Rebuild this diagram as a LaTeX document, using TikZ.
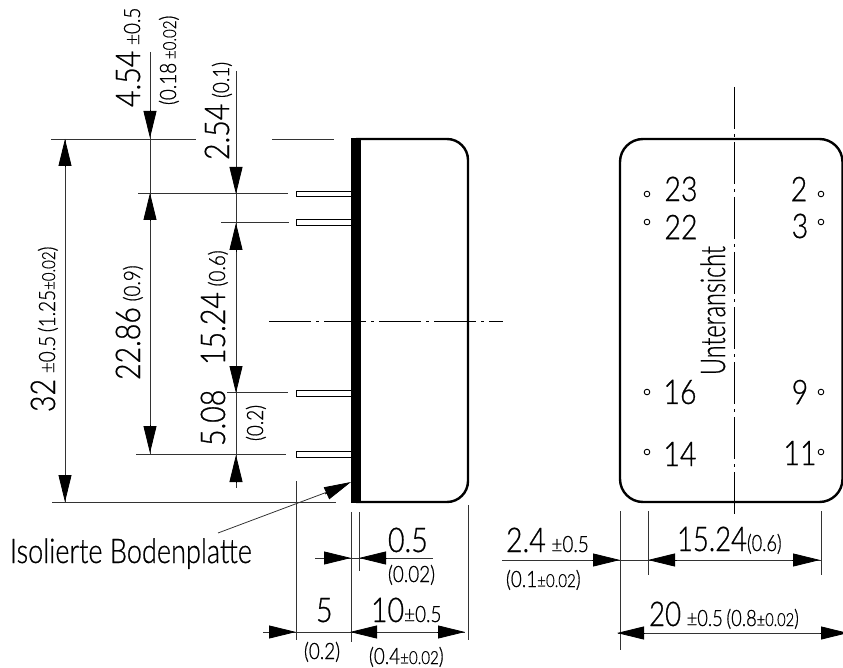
\documentclass[tikz,border=0pt]{standalone}
\usepackage{fontspec}
\setmainfont[FakeStretch=0.84,FakeBold=0.7]{Lato Light}
\usetikzlibrary{arrows.meta}
\newcommand{\szA}{\fontsize{34}{34}\selectfont}
\newcommand{\szB}{\fontsize{22.5}{22.5}\selectfont}
\newcommand{\szC}{\fontsize{22.5}{22.5}\selectfont}
\newcommand{\szD}{\fontsize{18}{18}\selectfont}
\tikzset{
  dimline/.style={line width=0.8pt,draw=black!80},
  dimarrow/.style={draw=black,line width=0.8pt,-{Triangle[length=27pt,width=13pt,fill=black]}},
  outline/.style={line width=2.4pt,draw=black},
  centerline/.style={line width=0.8pt,draw=black,dash pattern=on 42pt off 5pt on 3pt off 5pt},
  pin/.style={line width=1pt,draw=black,fill=white},
  hole/.style={line width=0.9pt,draw=black,fill=white},
  lab/.style={inner sep=0pt,outer sep=0pt,anchor=base west},
  vlab/.style={inner sep=0pt,outer sep=0pt,anchor=base west,rotate=90},
  clab/.style={inner sep=0pt,outer sep=0pt,anchor=center},
}
\begin{document}
\begin{tikzpicture}[x=1pt,y=-1pt]
\useasboundingbox (0,0) rectangle (843,668);
\begin{scope}
\clip (0,0) rectangle (843,668);
% side view
\draw[outline,rounded corners=21pt] (356,139) -- (468,139) -- (468,502) -- (356,502);
\fill (351,138) rectangle (361,503);
\foreach \n/\a/\b in {p1/192/197,p2/220/226,p3/390/396,p4/451/457}{
  \draw[pin] (351,\a) -- (296,\a) -- (296,\b) -- (351,\b);
}
% centre lines
\draw[centerline] (269,321) -- (503,321);
\draw[centerline] (734.5,87) -- (734.5,515);
% horizontal extension lines
\draw[dimline] (51,139) -- (196,139);
\draw[dimline] (272,139) -- (334,139);
\draw[dimline] (138,193) -- (288,193);
\draw[dimline] (221,222.5) -- (289,222.5);
\draw[dimline] (227,392) -- (288,392);
\draw[dimline] (136,454) -- (286,454);
\draw[dimline] (52,502) -- (336,502);
% vertical dimensions
\draw[dimline] (65,139) -- (65,502);
\draw[dimline] (150,52) -- (150,454);
\draw[dimline] (236,71) -- (236,488);
\draw[dimarrow] (65,167) -- (65,139);
\draw[dimarrow] (65,476) -- (65,502);
\draw[dimarrow] (150,110) -- (150,138);
\draw[dimarrow] (150,220) -- (150,193);
\draw[dimarrow] (150,425) -- (150,453);
\draw[dimarrow] (236,167) -- (236,194);
\draw[dimarrow] (236,252) -- (236,223);
\draw[dimarrow] (236,367) -- (236,393);
\draw[dimarrow] (236,482) -- (236,455);
% bottom extension lines, left
\draw[dimline] (296,481) -- (296,640);
\draw[dimline] (351,512) -- (351,642);
\draw[dimline] (359,512) -- (359,571);
\draw[dimline] (468,505) -- (468,640);
\draw[dimline] (315,558) -- (433,558);
\draw[dimline] (263,632) -- (465,632);
\draw[dimarrow] (325,558) -- (351,558);
\draw[dimarrow] (387,558) -- (359,558);
\draw[dimarrow] (269,632) -- (296,632);
\draw[dimarrow] (376,632) -- (350,632);
\draw[dimarrow] (437,632) -- (465,632);
% leader
\draw[dimline] (218,533) -- (330,491);
\draw[dimarrow] (325,494) -- (351,482);
% bottom view
\draw[outline,rounded corners=23pt] (620,139) rectangle (842.5,502);
\foreach \x in {647,821}{\foreach \y in {194,222,392,452}{\draw[hole] (\x,\y) circle[radius=2.8];}}
% bottom dimensions, right
\draw[dimline] (620,511) -- (620,650);
\draw[dimline] (648,511) -- (648,575);
\draw[dimline] (821,511) -- (821,575);
\draw[dimline] (502,560) -- (821,560);
\draw[dimline] (618,633) -- (843,633);
\draw[dimarrow] (592,560) -- (620,560);
\draw[dimarrow] (677,560) -- (648,560);
\draw[dimarrow] (792,560) -- (820,560);
\draw[dimarrow] (644,633) -- (617,633);
\draw[dimarrow] (820,633) -- (848,633);
\end{scope}
% pin labels
\node[clab] (n23) at (681,189) {\szA 23};
\node[clab] (n22) at (681,227) {\szA 22};
\node[clab] (n2) at (799,189) {\szA 2};
\node[clab] (n3) at (800,226) {\szA 3};
\node[clab] (n16) at (680,392) {\szA 16};
\node[clab] (n14) at (680,454) {\szA 14};
\node[clab] (n9) at (800,392) {\szA 9};
\node[clab] (n11) at (800,453) {\szA 11};
\node[vlab] (unter) at (725,375) {\scalebox{0.82}[1]{\szA Unteransicht}};
% rotated dimension labels
\node[vlab] (d454) at (140,107) {\szA 4.54\,\szB ±0.5};
\node[vlab] (d018) at (176,105) {\szC (0.18\,\szD ±0.02\szC )};
\node[vlab] (d254) at (229,160) {\szA 2.54\,\szC (0.1)};
\node[vlab] (d1524) at (225,365) {\szA 15.24\,\szC (0.6)};
\node[vlab] (d2286) at (140,380) {\szA 22.86\,\szC (0.9)};
\node[vlab] (d32) at (55,412) {\szA 32\,\szB ±0.5\,\szC (1.25\szD ±0.02\szC )};
\node[vlab] (d508) at (225,446) {\szA 5.08};
\node[vlab] (d02) at (263,441) {\szC (0.2)};
% horizontal dimension labels, left
\node[lab] (h05) at (388,552) {\szA 0.5};
\node[lab] (h002) at (388,582) {\szC (0.02)};
\node[lab] (h5) at (316,622) {\szA 5};
\node[lab] (h02) at (304,659) {\szC (0.2)};
\node[lab] (h10) at (371,622) {\szA 10\szB ±0.5};
\node[lab] (h04) at (369,664) {\szC (0.4\szD ±0.02\szC )};
\node[lab] (iso) at (10,563) {\scalebox{0.95}[1]{\szA Isolierte Bodenplatte}};
% horizontal dimension labels, right
\node[lab] (h24) at (506,552) {\szA 2.4\,\szB ±0.5};
\node[lab] (h01) at (506,587) {\szC (0.1\szD ±0.02\szC )};
\node[lab] (h1524) at (677,551) {\scalebox{0.96}[1]{\szA 15.24\szC (0.6)}};
\node[lab] (h20) at (649,626) {\scalebox{0.97}[1]{\szA 20\,\szB ±0.5\,\szC (0.8\szD ±0.02\szC )}};
\end{tikzpicture}
\end{document}
